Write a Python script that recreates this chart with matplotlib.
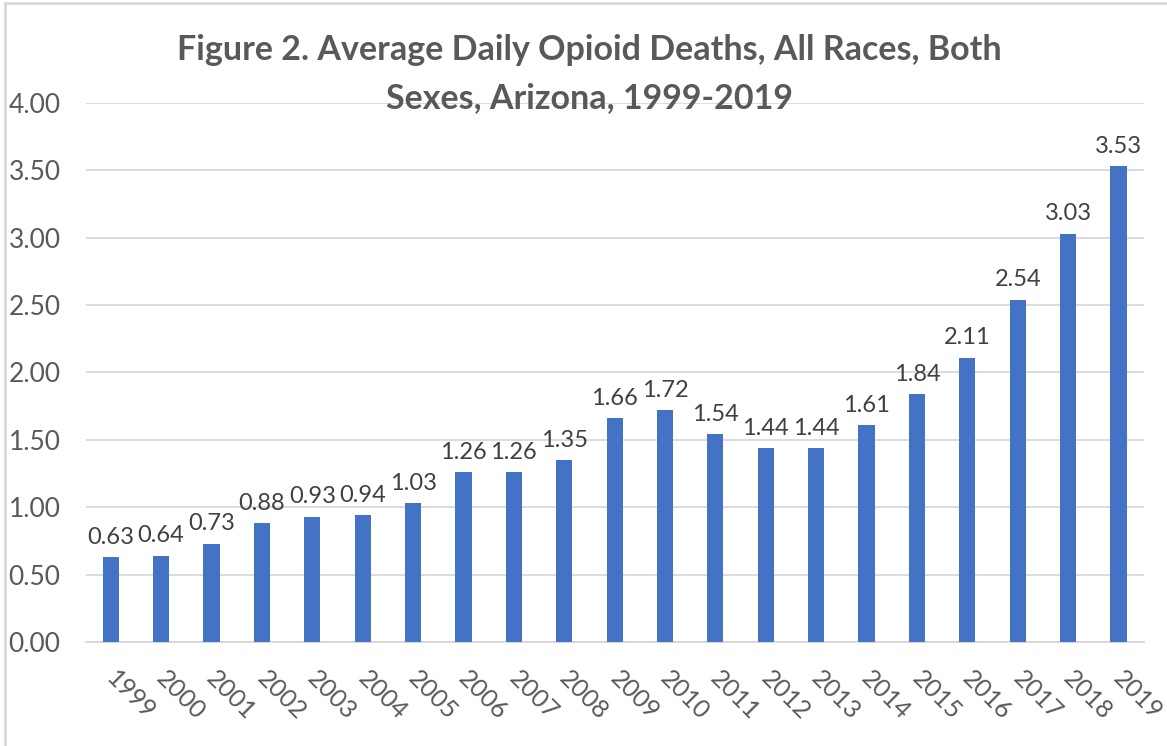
import matplotlib.pyplot as plt
from matplotlib.patches import Rectangle
from matplotlib.transforms import ScaledTranslation

# Data
years = ['1999', '2000', '2001', '2002', '2003', '2004', '2005', '2006', '2007', '2008',
         '2009', '2010', '2011', '2012', '2013', '2014', '2015', '2016', '2017', '2018', '2019']
deaths = [0.63, 0.64, 0.73, 0.88, 0.93, 0.94, 1.03, 1.26, 1.26, 1.35,
          1.66, 1.72, 1.54, 1.44, 1.44, 1.61, 1.84, 2.11, 2.54, 3.03, 3.53]
yticks = [0.0, 0.5, 1.0, 1.5, 2.0, 2.5, 3.0, 3.5, 4.0]

BAR_COLOR = '#4472C4'
TEXT_COLOR = '#595959'
GRID_COLOR = '#D9D9D9'

plt.rcParams['font.family'] = ['Lato', 'DejaVu Sans']

fig = plt.figure(figsize=(11.67, 7.46), dpi=100)
ax = fig.add_axes([0.0733, 0.1394, 0.9067, 0.7226])

x = list(range(len(years)))
ax.bar(x, deaths, width=0.32, color=BAR_COLOR, zorder=3)

# value labels above bars
for xi, v in zip(x, deaths):
    ax.text(xi, v + 0.07, f'{v:.2f}', ha='center', va='bottom',
            fontsize=17, color='#404040')

ax.set_xlim(-0.5, len(years) - 0.5)
ax.set_ylim(0, 4)
ax.set_yticks(yticks)
ax.set_yticklabels([f'{t:.2f}' for t in yticks], fontsize=19, color=TEXT_COLOR)
ax.set_xticks(x)
ax.set_xticklabels(years, fontsize=18, color=TEXT_COLOR, rotation=-45,
                   ha='left', va='top')
ax.tick_params(axis='both', length=0)
ax.tick_params(axis='x', pad=18)
ax.tick_params(axis='y', pad=18)
shift = ScaledTranslation(-9 / 100, 0, fig.dpi_scale_trans)
for lbl in ax.get_xticklabels():
    lbl.set_transform(lbl.get_transform() + shift)

ax.grid(axis='y', color=GRID_COLOR, linewidth=1.3, zorder=0)
for side in ['top', 'right', 'left']:
    ax.spines[side].set_visible(False)
ax.spines['bottom'].set_color(GRID_COLOR)
ax.spines['bottom'].set_linewidth(1.5)

fig.text(0.505, 0.901, 'Figure 2. Average Daily Opioid Deaths, All Races, Both\nSexes, Arizona, 1999-2019',
         ha='center', va='center', fontsize=24.5, fontweight='bold', color=TEXT_COLOR,
         linespacing=1.62)

# light chart border (cropped at right/bottom in the reference)
fig.patches.append(Rectangle((0.004, -0.01), 1.1, 1.006, transform=fig.transFigure,
                             fill=False, edgecolor='#D9D9D9', linewidth=2))

fig.savefig('out.png', dpi=100)
